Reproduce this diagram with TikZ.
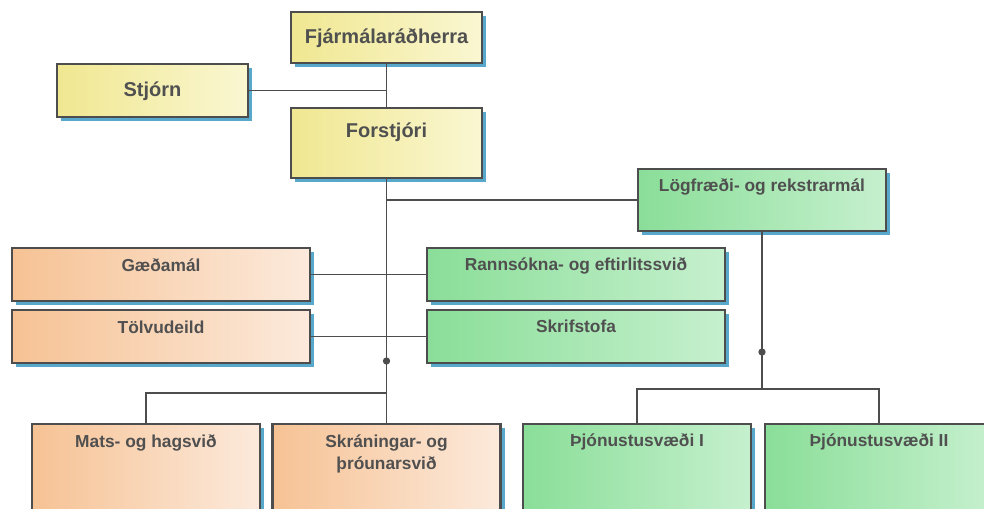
\documentclass[tikz,border=0pt]{standalone}
\usepackage{fontspec}
\setmainfont{Liberation Sans}
\usetikzlibrary{shadows,calc}

\definecolor{linegray}{RGB}{77,77,77}
\definecolor{textgray}{RGB}{80,80,80}
\definecolor{shadowblue}{RGB}{88,168,204}
\definecolor{yelA}{RGB}{240,231,145}
\definecolor{yelB}{RGB}{250,247,210}
\definecolor{orgA}{RGB}{246,194,148}
\definecolor{orgB}{RGB}{252,234,220}
\definecolor{grnA}{RGB}{138,222,152}
\definecolor{grnB}{RGB}{198,240,206}

\tikzset{
  box/.style={rectangle, draw=linegray, line width=1.7pt, inner sep=0pt,
    drop shadow={shadow xshift=3pt, shadow yshift=-3pt, fill=shadowblue, opacity=1}},
  boxsize/.style 2 args={minimum width=#1*0.75pt, minimum height=#2*0.75pt},
  yelbox/.style={box, left color=yelA, right color=yelB},
  orgbox/.style={box, left color=orgA, right color=orgB},
  grnbox/.style={box, left color=grnA, right color=grnB},
  lab/.style={anchor=base, align=center, text=textgray, font=\fontsize{13}{16.5}\selectfont\bfseries},
  biglab/.style={lab, font=\fontsize{15}{18}\selectfont\bfseries},
  conn/.style={draw=linegray, line width=1.4pt},
  joint/.style={circle, fill=linegray, inner sep=0pt, minimum size=5.5pt}
}

\begin{document}
\begin{tikzpicture}[x=0.75pt,y=0.75pt,yscale=-1,xscale=1]
  \useasboundingbox (0,0) rectangle (984,508);
  \clip (0,0) rectangle (984,508);

  % Top level
  \node[yelbox, boxsize={191}{51}] (fjar) at (386.5,37.5) {};
  \node[yelbox, boxsize={191}{53}] (stjorn) at (152.5,90.5) {};
  \node[yelbox, boxsize={191}{70}] (forst) at (386.5,143) {};
  % Legal and operations
  \node[grnbox, boxsize={248}{62}] (logf) at (762,200) {};
  % Middle row
  \node[orgbox, boxsize={298}{53}] (gaed) at (161,274.5) {};
  \node[grnbox, boxsize={298}{53}] (rann) at (576,274.5) {};
  \node[orgbox, boxsize={298}{53}] (tolv) at (161,336.5) {};
  \node[grnbox, boxsize={298}{53}] (skrif) at (576,336.5) {};
  % Bottom row
  \node[orgbox, boxsize={228}{110}] (mats) at (146,479) {};
  \node[orgbox, boxsize={228}{110}] (skran) at (386.5,479) {};
  \node[grnbox, boxsize={228}{110}] (thjA) at (637,479) {};
  \node[grnbox, boxsize={228}{110}] (thjB) at (879,479) {};

  % Text Nodes
  \node[biglab] (fjarT) at ($(fjar.north)+(0,33)$) {Fjármálaráðherra};
  \node[biglab] (stjornT) at ($(stjorn.north)+(0,34)$) {Stjórn};
  \node[biglab] (forstT) at ($(forst.north)+(0,31)$) {Forstjóri};
  \node[lab] (logfT) at ($(logf.north)+(0,24)$) {Lögfræði- og rekstrarmál};
  \node[lab] (gaedT) at ($(gaed.north)+(0,24.5)$) {Gæðamál};
  \node[lab] (rannT) at ($(rann.north)+(0,24)$) {Rannsókna- og eftirlitssvið};
  \node[lab] (tolvT) at ($(tolv.north)+(0,24.5)$) {Tölvudeild};
  \node[lab] (skrifT) at ($(skrif.north)+(0,24)$) {Skrifstofa};
  \node[lab] (matsT) at ($(mats.north)+(0,24.5)$) {Mats- og hagsvið};
  \node[lab] (skranT) at ($(skran.north)+(0,46.5)$) {Skráningar- og\\þróunarsvið};
  \node[lab] (thjAT) at ($(thjA.north)+(0,24)$) {Þjónustusvæði I};
  \node[lab] (thjBT) at ($(thjB.north)+(0,24)$) {Þjónustusvæði II};

  % Connectors
  \coordinate (trunkEnd) at (386.5,393);
  \coordinate (logfEnd) at (762,389);
  \draw[conn] (fjar.south) -- (forst.north);
  \draw[conn] (stjorn.east) -- (stjorn.east -| fjar.south);
  \draw[conn] (forst.south) -- (trunkEnd);
  \draw[conn] (forst.south |- logf.west) -- (logf.west);
  \draw[conn] (gaed.east) -- (rann.west);
  \draw[conn] (tolv.east) -- (skrif.west);
  \draw[conn] (mats.north) |- (trunkEnd) -- (skran.north);
  \draw[conn] (logf.south) -- (logfEnd);
  \draw[conn] (thjA.north) |- (logfEnd) -| (thjB.north);

  % Joints
  \node[joint] (trunkDot) at (386.5,361) {};
  \node[joint] (logfDot) at (762,352) {};
\end{tikzpicture}
\end{document}
